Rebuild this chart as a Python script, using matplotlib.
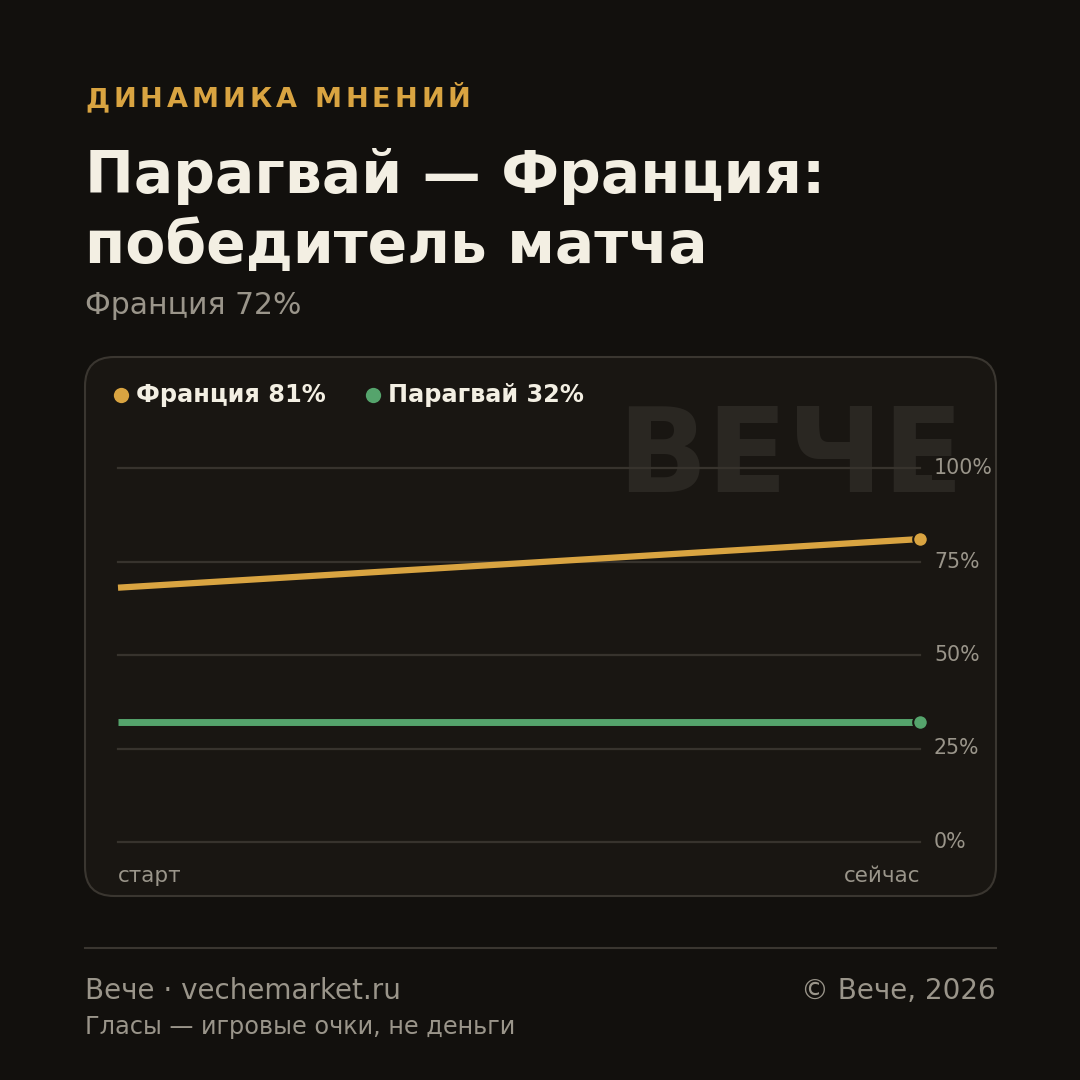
import matplotlib.pyplot as plt
from matplotlib.patches import FancyBboxPatch
from matplotlib.lines import Line2D

# data
steps = ["старт", "сейчас"]
france = [68, 81]
paraguay = [32, 32]
y_ticks = [0, 25, 50, 75, 100]
y_tick_labels = ["0%", "25%", "50%", "75%", "100%"]

BG = "#12100d"
PANEL = "#191612"
EDGE = "#3a3630"
GRID = "#37332d"
ORANGE = "#d9a441"
GREEN = "#55a46c"
CREAM = "#f3efe3"
GREY = "#9a958a"

plt.rcParams["font.family"] = ["DejaVu Sans"]

W = H = 1080
fig = plt.figure(figsize=(10.8, 10.8), dpi=100, facecolor=BG)


def fx(px):
    return px / W


def fy(py):
    return 1 - py / H


# card behind the chart
card = FancyBboxPatch((fx(85), fy(896)), fx(996) - fx(85), fy(357) - fy(896),
                      boxstyle="round,pad=0,rounding_size=0.027",
                      transform=fig.transFigure, facecolor=PANEL,
                      edgecolor=EDGE, linewidth=1.5, zorder=0)
fig.patches.append(card)

# kicker with letter spacing
renderer = fig.canvas.get_renderer()
x = 85
for ch in "ДИНАМИКА МНЕНИЙ":
    t = fig.text(fx(x), fy(100), ch, fontsize=19.5, fontweight="bold",
                 color=ORANGE, va="center", ha="left")
    w = t.get_window_extent(renderer).width
    x += w + 4.0

fig.text(fx(85), fy(193), "Парагвай — Франция:", fontsize=42,
         fontweight="bold", color=CREAM, va="baseline")
fig.text(fx(85), fy(263), "победитель матча", fontsize=42,
         fontweight="bold", color=CREAM, va="baseline")
fig.text(fx(85), fy(306), "Франция 72%", fontsize=21.5, color=GREY,
         va="center")

# watermark
fig.text(fx(964), fy(459), "ВЕЧЕ", fontsize=85, fontweight="bold",
         color="#2a2722", ha="right", va="center", zorder=1)

ax = fig.add_axes([fx(118), fy(842), fx(920) - fx(118), fy(468) - fy(842)])
ax.set_facecolor("none")
ax.set_zorder(2)
ax.set_xlim(0, len(steps) - 1)
ax.set_ylim(0, 100)
for s in ax.spines.values():
    s.set_visible(False)
ax.set_xticks([])
ax.set_yticks([])

for v, lab in zip(y_ticks, y_tick_labels):
    ax.axhline(v, color=GRID, linewidth=1.6, zorder=1, clip_on=False)
    ax.text(1.0 + 14 / 802, v, lab, transform=ax.get_yaxis_transform(),
            fontsize=14.8, color=GREY, va="center", ha="left",
            bbox=dict(boxstyle="square,pad=0.1", facecolor=PANEL,
                      edgecolor="none"))

xs = list(range(len(steps)))
ax.plot(xs, france, color=ORANGE, linewidth=4.5, solid_capstyle="butt",
        zorder=3, clip_on=False)
ax.plot(xs, paraguay, color=GREEN, linewidth=5, solid_capstyle="butt",
        zorder=3, clip_on=False)
ax.plot(xs[-1], france[-1], "o", color=ORANGE, markersize=10.5,
        markeredgecolor=PANEL, markeredgewidth=1.5, zorder=4, clip_on=False)
ax.plot(xs[-1], paraguay[-1], "o", color=GREEN, markersize=10.5,
        markeredgecolor=PANEL, markeredgewidth=1.5, zorder=4, clip_on=False)

fig.text(fx(118), fy(876), steps[0], fontsize=15.5, color=GREY,
         ha="left", va="center")
fig.text(fx(920), fy(876), steps[-1], fontsize=15.5, color=GREY,
         ha="right", va="center")

# legend
for dot_x, col, label in [(121, ORANGE, "Франция 81%"),
                          (373, GREEN, "Парагвай 32%")]:
    fig.add_artist(Line2D([fx(dot_x)], [fy(395)], marker="o", markersize=11,
                          color=col, markeredgecolor="none",
                          transform=fig.transFigure))
    fig.text(fx(dot_x + 15), fy(395), label, fontsize=17.3,
             fontweight="bold", color=CREAM, va="center", ha="left")

# footer
fig.add_artist(Line2D([fx(85), fx(996)], [fy(948), fy(948)], color=EDGE,
                      linewidth=1.5, transform=fig.transFigure))
fig.text(fx(85), fy(991), "Вече · vechemarket.ru", fontsize=20,
         color=GREY, va="center")
fig.text(fx(996), fy(991), "© Вече, 2026", fontsize=20, color=GREY,
         va="center", ha="right")
fig.text(fx(85), fy(1027), "Гласы — игровые очки, не деньги", fontsize=17.3,
         color=GREY, va="center")

fig.savefig("out.png", dpi=100, facecolor=BG)
